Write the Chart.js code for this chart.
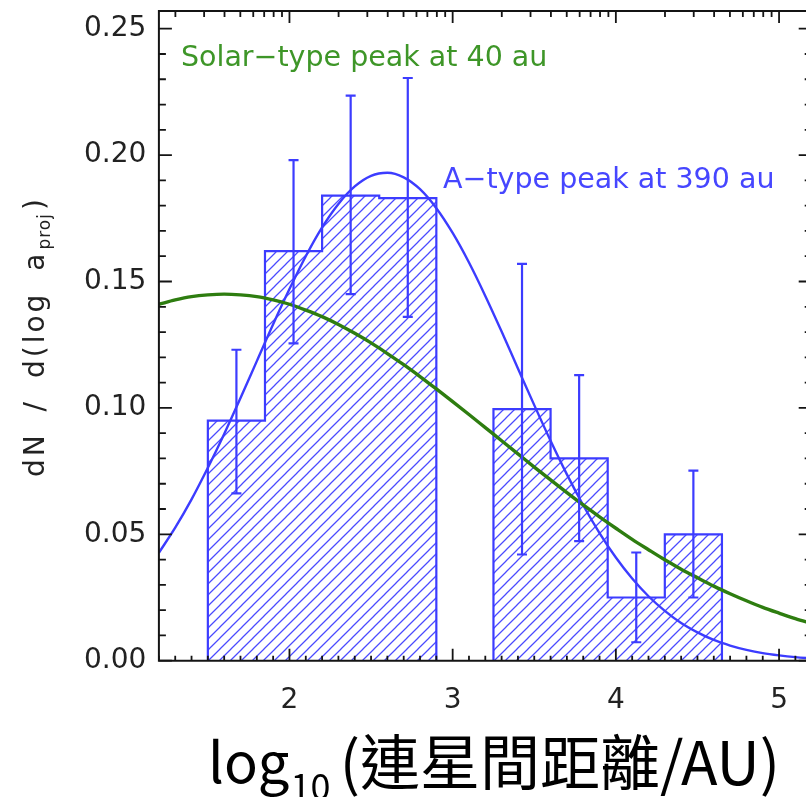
<!DOCTYPE html>
<html>
<head>
<meta charset="utf-8">
<script src="https://cdn.jsdelivr.net/npm/chart.js@4.4.1/dist/chart.umd.min.js"></script>
<style>
    html, body { margin: 0; padding: 0; overflow: hidden; background: #fff; }
    #wrap { position: absolute; left: 0; top: 0; width: 830px; height: 797px; }
</style>
</head>
<body>
<div id="wrap"><canvas id="chart1" width="830" height="797"></canvas></div>
<script>
// 히스토그램 구간 (log10 a, au)
var binLeft = [1.50, 1.85, 2.20, 2.55, 2.90, 3.25, 3.60, 3.95, 4.30];
var binWidth = 0.35;
var binHeight = [0.095, 0.162, 0.184, 0.183, 0, 0.0995, 0.080, 0.025, 0.050];
var errHigh = [0.123, 0.198, 0.2235, 0.2305, null, 0.157, 0.113, 0.0428, 0.0752];
var errLow = [0.0662, 0.1255, 0.145, 0.136, null, 0.042, 0.0473, 0.0073, 0.0250];

// 피팅 곡선
var curveX = [1.2, 1.3, 1.4, 1.5, 1.6, 1.7, 1.8, 1.9, 2.0, 2.1, 2.2, 2.3, 2.4, 2.5, 2.6, 2.7, 2.8, 2.9, 3.0, 3.1,
              3.2, 3.3, 3.4, 3.5, 3.6, 3.7, 3.8, 3.9, 4.0, 4.1, 4.2, 4.3, 4.4, 4.5, 4.6, 4.7, 4.8, 4.9, 5.0, 5.1, 5.2];
var atypeFit = [0.0427, 0.0526, 0.0638, 0.0763, 0.0897, 0.1039, 0.1185, 0.1331, 0.1470, 0.1600, 0.1714, 0.1807,
                0.1876, 0.1918, 0.1930, 0.1912, 0.1865, 0.1790, 0.1692, 0.1575, 0.1443, 0.1302, 0.1156, 0.1011,
                0.0870, 0.0737, 0.0615, 0.0505, 0.0408, 0.0325, 0.0255, 0.0197, 0.0149, 0.0112, 0.0082, 0.0060,
                0.0043, 0.0030, 0.0021, 0.0014, 0.0009];
var solarFit = [0.1410, 0.1427, 0.1440, 0.1447, 0.1450, 0.1447, 0.1440, 0.1427, 0.1410, 0.1387, 0.1361, 0.1330,
                0.1295, 0.1257, 0.1215, 0.1171, 0.1124, 0.1075, 0.1025, 0.0974, 0.0922, 0.0870, 0.0818, 0.0766,
                0.0715, 0.0665, 0.0616, 0.0569, 0.0524, 0.0480, 0.0439, 0.0399, 0.0362, 0.0328, 0.0295, 0.0265,
                0.0237, 0.0211, 0.0188, 0.0166, 0.0147];

var xTicks = [2, 3, 4, 5];
var yTicks = [0.00, 0.05, 0.10, 0.15, 0.20, 0.25];

var BLUE = 'rgb(60,60,255)';
var GREEN = 'rgb(46,125,16)';
var AXIS = '#141414';

var canvas = document.getElementById('chart1');
var ctx = canvas.getContext('2d');

// 빗금 패턴
function hatchPattern() {
    var size = 11;
    var c = document.createElement('canvas');
    c.width = size;
    c.height = size;
    var g = c.getContext('2d');
    g.strokeStyle = 'rgb(75,75,255)';
    g.lineWidth = 1.25;
    g.beginPath();
    g.moveTo(-2, size + 2); g.lineTo(size + 2, -2);
    g.moveTo(-2, 2); g.lineTo(2, -2);
    g.moveTo(size - 2, size + 2); g.lineTo(size + 2, size - 2);
    g.stroke();
    return ctx.createPattern(c, 'repeat');
}

// 빈 구간(0)에서 끊어서 계단형 외곽선 만들기
function histogramSets() {
    var sets = [];
    var pts = null;
    for (var i = 0; i < binHeight.length; i++) {
        var left = binLeft[i];
        var right = left + binWidth;
        if (binHeight[i] > 0) {
            if (!pts) {
                pts = [{ x: left, y: 0 }];
            }
            pts.push({ x: left, y: binHeight[i] });
            if (i === binHeight.length - 1 || !(binHeight[i + 1] > 0)) {
                pts.push({ x: right, y: 0 });
                sets.push(pts);
                pts = null;
            }
        }
    }
    var pattern = hatchPattern();
    return sets.map(function(p) {
        return {
            data: p,
            stepped: true,
            borderColor: BLUE,
            borderWidth: 2.2,
            backgroundColor: pattern,
            fill: 'origin',
            pointRadius: 0,
            order: 3
        };
    });
}

function curvePoints(values) {
    return curveX.map(function(x, i) { return { x: x, y: values[i] }; });
}

var datasets = histogramSets();
datasets.push({
    data: curvePoints(atypeFit),
    borderColor: BLUE,
    borderWidth: 2.4,
    cubicInterpolationMode: 'monotone',
    pointRadius: 0,
    fill: false,
    order: 1
});
datasets.push({
    data: curvePoints(solarFit),
    borderColor: GREEN,
    borderWidth: 3.4,
    cubicInterpolationMode: 'monotone',
    pointRadius: 0,
    fill: false,
    order: 0
});

// 오차 막대, 테두리 눈금, 주석
var decorations = {
    id: 'decorations',
    afterDatasetsDraw: function(chart) {
        var c = chart.ctx;
        var xs = chart.scales.x, ys = chart.scales.y;
        var a = chart.chartArea;

        c.save();
        c.strokeStyle = BLUE;
        c.lineWidth = 2.2;
        for (var i = 0; i < errHigh.length; i++) {
            if (errHigh[i] == null) continue;
            var px = xs.getPixelForValue(binLeft[i] + binWidth / 2);
            var top = ys.getPixelForValue(errHigh[i]);
            var bot = ys.getPixelForValue(errLow[i]);
            c.beginPath();
            c.moveTo(px, top); c.lineTo(px, bot);
            c.moveTo(px - 5, top); c.lineTo(px + 5, top);
            c.moveTo(px - 5, bot); c.lineTo(px + 5, bot);
            c.stroke();
        }
        c.restore();

        c.save();
        c.strokeStyle = AXIS;
        c.lineWidth = 2;
        c.beginPath();
        c.rect(a.left, a.top, a.right - a.left, a.bottom - a.top);
        c.stroke();

        c.lineWidth = 1.8;
        c.beginPath();
        // 좌우 눈금
        for (var k = 0; k <= 25; k++) {
            var py = ys.getPixelForValue(k / 100);
            var len = (k % 5 === 0) ? 13 : 7;
            c.moveTo(a.left, py); c.lineTo(a.left + len, py);
            c.moveTo(a.right, py); c.lineTo(a.right - len, py);
        }
        // 아래 눈금
        for (var k2 = 12; k2 <= 52; k2++) {
            var bx = xs.getPixelForValue(k2 / 10);
            var blen = (k2 % 10 === 0) ? 12 : 5;
            c.moveTo(bx, a.bottom); c.lineTo(bx, a.bottom - blen);
        }
        // 위 눈금 (로그 간격)
        for (var n = 1; n <= 5; n++) {
            for (var m = 1; m <= 9; m++) {
                var v = n + Math.log10(m);
                if (v <= xs.min || v >= xs.max) continue;
                var tx = xs.getPixelForValue(v);
                var tlen = (m === 1) ? 12 : 6;
                c.moveTo(tx, a.top); c.lineTo(tx, a.top + tlen);
            }
        }
        c.stroke();
        c.restore();

        c.save();
        c.font = '28.5px "DejaVu Sans"';
        c.textBaseline = 'alphabetic';
        c.fillStyle = 'rgb(62,150,40)';
        c.fillText('Solar\u2212type peak at 40 au', xs.getPixelForValue(1.335), ys.getPixelForValue(0.2352));
        c.fillStyle = 'rgb(70,70,255)';
        c.fillText('A\u2212type peak at 390 au', xs.getPixelForValue(2.941), ys.getPixelForValue(0.187));
        c.restore();
    },
    afterDraw: function(chart) {
        var c = chart.ctx;

        // y축 제목
        c.save();
        c.translate(44, 477);
        c.rotate(-Math.PI / 2);
        c.fillStyle = '#222';
        c.textBaseline = 'alphabetic';
        c.font = '28px "DejaVu Sans"';
        c.letterSpacing = '3px';
        c.wordSpacing = '9px';
        var main = 'dN / d(log a';
        c.fillText(main, 0, 0);
        var w = c.measureText(main).width;
        c.font = '17px "DejaVu Sans"';
        c.letterSpacing = '1px';
        c.fillText('proj', w + 1, 6);
        var w2 = c.measureText('proj').width;
        c.font = '28px "DejaVu Sans"';
        c.letterSpacing = '0px';
        c.fillText(')', w + w2 + 4, 0);
        c.restore();

        // x축 제목
        c.save();
        c.fillStyle = '#000';
        c.textBaseline = 'alphabetic';
        var fam = '"Noto Sans CJK TC"';
        var x0 = 208;
        c.font = '56px ' + fam;
        c.fillText('log', x0, 783);
        x0 += c.measureText('log').width + 1;
        c.font = '36px ' + fam;
        c.fillText('10', x0, 800);
        x0 += c.measureText('10').width;
        c.font = '60px ' + fam;
        c.fillText(' (\u9023\u661f\u9593\u8ddd\u96e2/AU)', x0 - 4, 785);
        c.restore();
    }
};

function noEdgePadding(s) {
    s.paddingTop = 0;
    s.paddingBottom = 0;
    s.paddingLeft = 0;
    s.paddingRight = 0;
}

var chart1 = new Chart(ctx, {
    type: 'line',
    data: { datasets: datasets },
    options: {
        responsive: false,
        animation: false,
        layout: { padding: { left: 0, top: 11, right: 18.3, bottom: 0 } },
        plugins: {
            legend: { display: false },
            tooltip: { enabled: false }
        },
        scales: {
            x: {
                type: 'linear',
                min: 1.2,
                max: 5.2,
                grid: { display: false, drawTicks: false },
                border: { display: false },
                afterBuildTicks: function(s) {
                    s.ticks = xTicks.map(function(v) { return { value: v }; });
                },
                afterFit: function(s) { s.height = 136.3; noEdgePadding(s); },
                ticks: {
                    font: { family: 'DejaVu Sans', size: 28 },
                    color: '#222',
                    padding: 23,
                    maxRotation: 0,
                    callback: function(v) { return String(v); }
                }
            },
            y: {
                type: 'linear',
                min: 0,
                max: 0.257,
                grid: { display: false, drawTicks: false },
                border: { display: false },
                afterBuildTicks: function(s) {
                    s.ticks = yTicks.map(function(v) { return { value: v }; });
                },
                afterFit: function(s) { s.width = 158.9; noEdgePadding(s); },
                ticks: {
                    font: { family: 'DejaVu Sans', size: 28 },
                    color: '#222',
                    padding: 12.5,
                    callback: function(v) { return v.toFixed(2); }
                }
            }
        }
    },
    plugins: [decorations]
});
</script>
</body>
</html>
